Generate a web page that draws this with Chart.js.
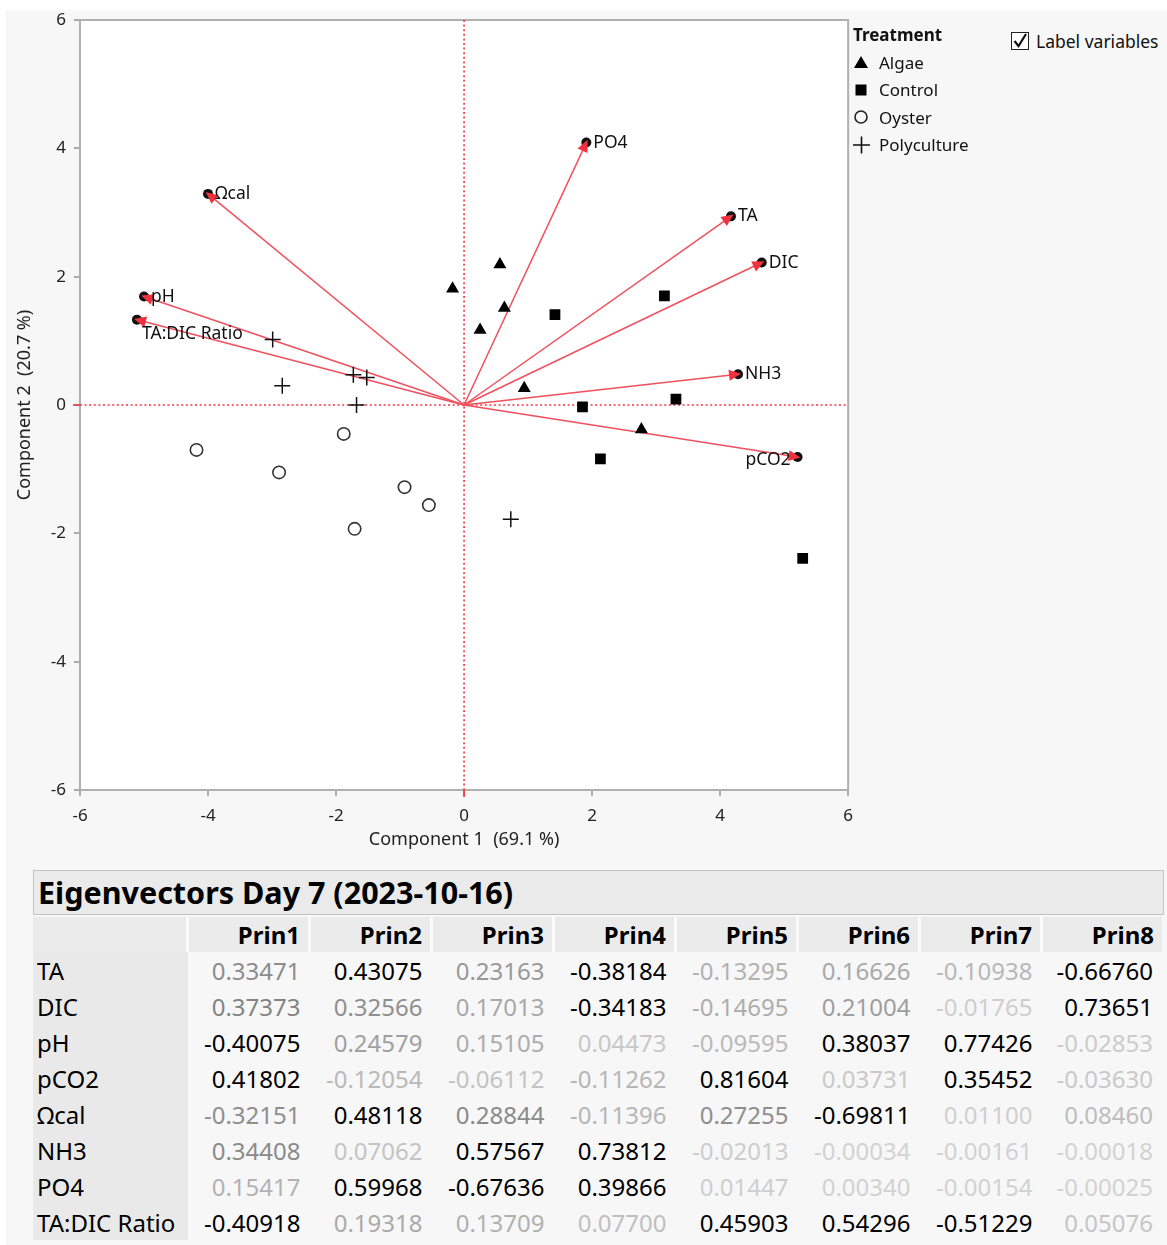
<!DOCTYPE html>
<html lang="en">
<head>
<meta charset="UTF-8">
<title>Biplot Day 7</title>
<script src="https://cdn.jsdelivr.net/npm/chart.js"></script>
<style>
  body { margin: 0; background: #fff; font-family: "Noto Sans", sans-serif; }
  #page { position: relative; width: 1167px; height: 1245px; overflow: hidden; }
  #panel { position: absolute; left: 6px; top: 10px; width: 1161px; height: 1235px; background: #f7f7f7; }
  #biplot { position: absolute; left: 0; top: 0; }
  #legend { position: absolute; left: 853px; top: 23px; font-size: 17px; color: #111; }
  #legend .ttl { font-weight: bold; height: 26px; }
  #legend .item { height: 27.3px; display: flex; align-items: center; }
  #legend svg { width: 20px; height: 18px; margin-right: 6px; }
  #labelvars { position: absolute; left: 1011px; top: 29px; font-size: 17.5px; color: #111; display: flex; align-items: center; }
  #labelvars .box { width: 16px; height: 16px; border: 1.5px solid #222; background: #fff; margin-right: 7px; position: relative; }
  #title { position: absolute; left: 33px; top: 870px; width: 1125px; height: 43px; background: #eaeaea; border: 1px solid #c4c4c4;
           font-weight: bold; font-size: 30.5px; line-height: 43px; padding-left: 4px; box-sizing: content-box; color: #000; }
  #eig { position: absolute; left: 33px; top: 917px; border-collapse: collapse; font-size: 24px; table-layout: fixed; }
  #eig th { height: 35px; background: #ebebeb; font-weight: bold; text-align: right; padding: 0 8px 0 0; border-left: 3px solid #fbfbfb; }
  #eig th:first-child { border-left: none; }
  #eig td { height: 36px; text-align: right; padding: 0 9px 0 0; white-space: nowrap; overflow: hidden; }
  #eig td.lab { text-align: left; background: #e9e9e9; padding-left: 4px; color: #000; }
</style>
</head>
<body>
<div id="page">
  <div id="panel"></div>
  <canvas id="biplot" width="863" height="862"></canvas>

  <div id="legend">
    <div class="ttl">Treatment</div>
    <div class="item"><svg viewBox="0 0 20 18"><polygon points="8,2 15,14 1,14" fill="#000"/></svg>Algae</div>
    <div class="item"><svg viewBox="0 0 20 18"><rect x="2.5" y="3.5" width="11" height="11" fill="#000"/></svg>Control</div>
    <div class="item"><svg viewBox="0 0 20 18"><circle cx="8" cy="9" r="6" fill="none" stroke="#222" stroke-width="1.6"/></svg>Oyster</div>
    <div class="item"><svg viewBox="0 0 20 18"><path d="M0,9 H17 M8.5,0.5 V17.5" stroke="#111" stroke-width="1.6"/></svg>Polyculture</div>
  </div>
  <div id="labelvars"><div class="box"><svg viewBox="0 0 16 16" width="16" height="16" style="position:absolute;left:0;top:0"><path d="M2.5,8 L6.5,13 L14,1" fill="none" stroke="#111" stroke-width="2.2"/></svg></div>Label variables</div>

  <div id="title">Eigenvectors Day 7 (2023-10-16)</div>
  <table id="eig">
    <thead><tr id="eigHead"></tr></thead>
    <tbody id="eigBody"></tbody>
  </table>
</div>

<script>
// score points per treatment (Component 1, Component 2)
const algae = [[-0.18, 1.81], [0.56, 2.19], [0.63, 1.51], [0.25, 1.17], [0.94, 0.26], [2.77, -0.38]];
const control = [[1.42, 1.41], [3.13, 1.70], [1.85, -0.03], [3.31, 0.09], [2.13, -0.84], [5.29, -2.39]];
const oyster = [[-4.18, -0.70], [-2.89, -1.05], [-1.88, -0.45], [-0.93, -1.28], [-0.55, -1.56], [-1.71, -1.93]];
const polyculture = [[-2.99, 1.02], [-2.84, 0.30], [-1.73, 0.47], [-1.52, 0.43], [-1.68, 0.00], [0.73, -1.78]];

// variable loading rays
const varNames = ['TA', 'DIC', 'pH', 'pCO2', 'Ωcal', 'NH3', 'PO4', 'TA:DIC Ratio'];
const loadX = [4.17, 4.65, -5.00, 5.21, -4.00, 4.28, 1.91, -5.11];
const loadY = [2.94, 2.22, 1.69, -0.81, 3.29, 0.48, 4.09, 1.33];

const axisTicks = [-6, -4, -2, 0, 2, 4, 6];

// eigenvector table
const prinCols = ['Prin1', 'Prin2', 'Prin3', 'Prin4', 'Prin5', 'Prin6', 'Prin7', 'Prin8'];
const eigTA     = [0.33471, 0.43075, 0.23163, -0.38184, -0.13295, 0.16626, -0.10938, -0.66760];
const eigDIC    = [0.37373, 0.32566, 0.17013, -0.34183, -0.14695, 0.21004, -0.01765, 0.73651];
const eigPH     = [-0.40075, 0.24579, 0.15105, 0.04473, -0.09595, 0.38037, 0.77426, -0.02853];
const eigPCO2   = [0.41802, -0.12054, -0.06112, -0.11262, 0.81604, 0.03731, 0.35452, -0.03630];
const eigOcal   = [-0.32151, 0.48118, 0.28844, -0.11396, 0.27255, -0.69811, 0.01100, 0.08460];
const eigNH3    = [0.34408, 0.07062, 0.57567, 0.73812, -0.02013, -0.00034, -0.00161, -0.00018];
const eigPO4    = [0.15417, 0.59968, -0.67636, 0.39866, 0.01447, 0.00340, -0.00154, -0.00025];
const eigRatio  = [-0.40918, 0.19318, 0.13709, 0.07700, 0.45903, 0.54296, -0.51229, 0.05076];
const eigRows = [eigTA, eigDIC, eigPH, eigPCO2, eigOcal, eigNH3, eigPO4, eigRatio];

// ---- table ----
const colW = [153, 122, 122, 122, 122, 122, 122, 122, 122];
const fadeCut = [0.39, 0.40, 0.33, 0.33, 0.33, 0.33, 0.33, 0.33];
function shade(v, c) {
  const r = Math.abs(v) / fadeCut[c];
  if (r >= 1) return '#000';
  const g = Math.round(210 - 82 * r);
  return `rgb(${g},${g},${g})`;
}
const head = document.getElementById('eigHead');
head.innerHTML = `<th style="width:${colW[0]}px;padding:0"></th>` +
  prinCols.map((p, i) => `<th style="width:${colW[i + 1] - 11}px">${p}</th>`).join('');
const body = document.getElementById('eigBody');
eigRows.forEach((row, r) => {
  const tr = document.createElement('tr');
  tr.innerHTML = `<td class="lab">${varNames[r]}</td>` +
    row.map((v, c) => `<td style="color:${shade(v, c)}">${v.toFixed(5)}</td>`).join('');
  body.appendChild(tr);
});

// ---- biplot ----
const toPts = arr => arr.map(p => ({ x: p[0], y: p[1] }));
const rayColor = '#f0505e';

const biplotExtras = {
  id: 'biplotExtras',
  beforeDraw(chart) {
    const { ctx, chartArea: a } = chart;
    ctx.save();
    ctx.fillStyle = '#fff';
    ctx.fillRect(a.left, a.top, a.right - a.left, a.bottom - a.top);
    ctx.restore();
  },
  beforeDatasetsDraw(chart) {
    const { ctx, chartArea: a, scales: { x, y } } = chart;
    const x0 = x.getPixelForValue(0), y0 = y.getPixelForValue(0);
    ctx.save();
    ctx.strokeStyle = '#b0b0b0';
    ctx.lineWidth = 2;
    ctx.strokeRect(a.left, a.top, a.right - a.left, a.bottom - a.top);
    ctx.strokeStyle = '#f2343f';
    ctx.lineWidth = 1.6;
    ctx.setLineDash([2, 2.6]);
    ctx.beginPath();
    ctx.moveTo(x0, a.top); ctx.lineTo(x0, a.bottom);
    ctx.moveTo(a.left, y0); ctx.lineTo(a.right, y0);
    ctx.stroke();
    ctx.setLineDash([]);
    ctx.beginPath();
    ctx.moveTo(x0, a.bottom); ctx.lineTo(x0, a.bottom + 7);
    ctx.moveTo(a.left, y0); ctx.lineTo(a.left - 7, y0);
    ctx.stroke();
    ctx.restore();
  },
  afterDatasetsDraw(chart) {
    const { ctx, scales: { x, y } } = chart;
    const ox = x.getPixelForValue(0), oy = y.getPixelForValue(0);
    ctx.save();
    varNames.forEach((name, i) => {
      const px = x.getPixelForValue(loadX[i]), py = y.getPixelForValue(loadY[i]);
      const len = Math.hypot(px - ox, py - oy);
      const dx = (px - ox) / len, dy = (py - oy) / len;
      // black end dot
      ctx.fillStyle = '#111';
      ctx.beginPath();
      ctx.arc(px, py, 5, 0, Math.PI * 2);
      ctx.fill();
      // arrow head
      const tx = px + dx * 3, ty = py + dy * 3;
      const bx = tx - dx * 12, by = ty - dy * 12;
      ctx.fillStyle = '#f0323f';
      ctx.beginPath();
      ctx.moveTo(tx, ty);
      ctx.lineTo(bx - dy * 5.5, by + dx * 5.5);
      ctx.lineTo(bx + dy * 5.5, by - dx * 5.5);
      ctx.closePath();
      ctx.fill();
      // label
      ctx.fillStyle = '#111';
      ctx.font = '17.5px "Noto Sans"';
      ctx.textBaseline = 'middle';
      if (name === 'pCO2') {
        ctx.textAlign = 'right';
        ctx.fillText(name, px - 7, py + 3);
      } else if (name === 'TA:DIC Ratio') {
        ctx.textAlign = 'left';
        ctx.fillText(name, px + 5, py + 14);
      } else {
        ctx.textAlign = 'left';
        ctx.fillText(name, px + 7, py);
      }
    });
    ctx.restore();
  }
};

const rayDatasets = varNames.map((name, i) => ({
  label: name,
  data: [{ x: 0, y: 0 }, { x: loadX[i], y: loadY[i] }],
  showLine: true,
  borderColor: rayColor,
  borderWidth: 1.5,
  pointRadius: 0
}));

new Chart(document.getElementById('biplot'), {
  type: 'scatter',
  data: {
    datasets: [
      { label: 'Algae', data: toPts(algae), pointStyle: 'triangle', pointRadius: 7.5, backgroundColor: '#000', borderColor: '#000', borderWidth: 0 },
      { label: 'Control', data: toPts(control), pointStyle: 'rect', pointRadius: 7.6, backgroundColor: '#000', borderColor: '#000', borderWidth: 0 },
      { label: 'Oyster', data: toPts(oyster), pointStyle: 'circle', pointRadius: 6.2, backgroundColor: 'rgba(0,0,0,0)', borderColor: '#333', borderWidth: 1.6 },
      { label: 'Polyculture', data: toPts(polyculture), pointStyle: 'cross', pointRadius: 8, borderColor: '#111', borderWidth: 1.5 },
      ...rayDatasets
    ]
  },
  options: {
    responsive: false,
    animation: false,
    devicePixelRatio: 1,
    layout: { padding: { top: 20, right: 10, left: 0, bottom: 0 } },
    plugins: { legend: { display: false }, tooltip: { enabled: false } },
    scales: {
      x: {
        type: 'linear', min: -6, max: 6,
        afterBuildTicks: s => { s.ticks = axisTicks.map(v => ({ value: v })); },
        afterFit: s => { s.height = 72; },
        grid: { drawOnChartArea: false, drawTicks: true, tickLength: 6, color: '#aaa', lineWidth: 2 },
        border: { display: false },
        ticks: { color: '#222', padding: 10, font: { family: 'Noto Sans', size: 17 } },
        title: { display: true, text: 'Component 1  (69.1 %)', color: '#222', padding: { top: 0, bottom: 11 }, font: { family: 'Noto Sans', size: 18 } }
      },
      y: {
        type: 'linear', min: -6, max: 6,
        afterBuildTicks: s => { s.ticks = axisTicks.map(v => ({ value: v })); },
        afterFit: s => { s.width = 80; },
        grid: { drawOnChartArea: false, drawTicks: true, tickLength: 6, color: '#aaa', lineWidth: 2 },
        border: { display: false },
        ticks: { color: '#222', padding: 8, font: { family: 'Noto Sans', size: 17 } },
        title: { display: true, text: 'Component 2  (20.7 %)', color: '#222', padding: { top: 14, bottom: 0 }, font: { family: 'Noto Sans', size: 18 } }
      }
    }
  },
  plugins: [biplotExtras]
});
</script>
</body>
</html>
